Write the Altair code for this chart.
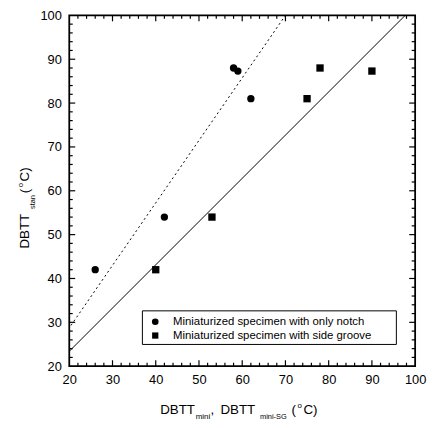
import altair as alt
import pandas as pd

# ---- data ----
notch_x = [26, 42, 58, 59, 62]
notch_y = [42, 54, 88, 87.3, 81]
groove_x = [40, 53, 75, 78, 90]
groove_y = [42, 54, 81, 88, 87.3]

solid_x = [20, 97.7]
solid_y = [23.4, 100]
dash_x = [20.4, 70]
dash_y = [29.3, 100]

major_ticks = [20, 30, 40, 50, 60, 70, 80, 90, 100]
minor_ticks = [v for v in range(22, 100, 2) if v % 10 != 0]

legend_labels = ["Miniaturized specimen with only notch",
                 "Miniaturized specimen with side groove"]

W, H = 350, 355
FONT = "Liberation Sans"
DOM = [20, 100]

xs = alt.Scale(domain=DOM, nice=False, zero=False)
ys = alt.Scale(domain=DOM, nice=False, zero=False)

xaxis = alt.Axis(values=major_ticks, format="d", title=None, ticks=False, tickSize=0,
                 domain=False, grid=False, labelPadding=8, labelFontSize=13,
                 labelFont=FONT, labelColor="black", labelFlush=False)
yaxis = alt.Axis(values=major_ticks, format="d", title=None, ticks=False, tickSize=0,
                 domain=False, grid=False, labelPadding=8, labelFontSize=13,
                 labelFont=FONT, labelColor="black", labelFlush=False)


def X(f):
    return alt.X(f, scale=xs, axis=xaxis)


def Y(f):
    return alt.Y(f, scale=ys, axis=yaxis)


pts_notch = alt.Chart(pd.DataFrame({"x": notch_x, "y": notch_y})).mark_point(
    shape="circle", filled=True, color="black", size=55, opacity=1
).encode(x=X("x:Q"), y=Y("y:Q"))

pts_groove = alt.Chart(pd.DataFrame({"x": groove_x, "y": groove_y})).mark_point(
    shape="square", filled=True, color="black", size=55, opacity=1
).encode(x=X("x:Q"), y=Y("y:Q"))

solid = alt.Chart(pd.DataFrame({"x": solid_x, "y": solid_y})).mark_line(
    color="black", strokeWidth=1, clip=True
).encode(x=X("x:Q"), y=Y("y:Q"))

dashed = alt.Chart(pd.DataFrame({"x": dash_x, "y": dash_y})).mark_line(
    color="black", strokeWidth=1, strokeDash=[2, 3], clip=True
).encode(x=X("x:Q"), y=Y("y:Q"))


def tick_layers(vals, length):
    df = pd.DataFrame({"x": vals, "y": vals})
    base = alt.Chart(df).mark_rule(color="black", strokeWidth=1.2)
    bottom = base.encode(x=X("x:Q"), y=alt.value(H), y2=alt.value(H - length))
    top = base.encode(x=X("x:Q"), y=alt.value(0), y2=alt.value(length))
    left = base.encode(y=Y("y:Q"), x=alt.value(0), x2=alt.value(length))
    right = base.encode(y=Y("y:Q"), x=alt.value(W), x2=alt.value(W - length))
    return [bottom, top, left, right]


ticks = tick_layers(major_ticks[1:-1], 6) + tick_layers(minor_ticks, 3.5)

one = pd.DataFrame({"d": [0]})


def txt(s, x, y, size, angle=0, align="left", baseline="alphabetic"):
    kw = dict(text=s, fontSize=size, font=FONT, color="black", align=align, baseline=baseline)
    if angle:
        kw["angle"] = angle
    return alt.Chart(one).mark_text(**kw).encode(x=alt.value(x), y=alt.value(y))


# x title: DBTT_mini, DBTT_mini-SG (°C)
xt = [
    txt("DBTT", 92, 403, 13.5),
    txt("mini", 128, 408, 8),
    txt(",", 143, 403, 13.5),
    txt("DBTT", 153, 403, 13.5),
    txt("mini-SG", 193, 408, 7.5),
    txt("(", 225, 403, 13.5),
    txt("o", 231, 397, 8),
    txt("C)", 237, 403, 13.5),
]

# y title: DBTT_stan (°C)
yt = [
    txt("DBTT", -41, 236, 13.5, angle=270),
    txt("stan", -35, 196, 7.5, angle=270),
    txt("(", -41, 180, 13.5, angle=270),
    txt("o", -47, 174, 8, angle=270),
    txt("C)", -41, 168, 13.5, angle=270),
]

# legend
leg_box = alt.Chart(one).mark_rect(fill="white", stroke="black", strokeWidth=1).encode(
    x=alt.value(74), x2=alt.value(331), y=alt.value(299), y2=alt.value(333))
leg_c = alt.Chart(one).mark_point(shape="circle", filled=True, color="black", size=45,
                                  opacity=1).encode(x=alt.value(87), y=alt.value(310))
leg_s = alt.Chart(one).mark_point(shape="square", filled=True, color="black", size=40,
                                  opacity=1).encode(x=alt.value(87), y=alt.value(324))
leg_t = [txt(legend_labels[0], 105, 310, 11.5, baseline="middle"),
         txt(legend_labels[1], 105, 324, 11.5, baseline="middle")]

chart = alt.layer(
    pts_notch, dashed, solid, *ticks, pts_groove, leg_box, leg_c, leg_s, *leg_t, *xt, *yt
).properties(
    width=W, height=H,
    autosize=alt.AutoSizeParams(type="none"),
    padding={"left": 62, "top": 5, "right": 12, "bottom": 52},
).configure_view(stroke="black", strokeWidth=1.8)

chart.save("out.html", embed_options={"renderer": "svg", "actions": False})
